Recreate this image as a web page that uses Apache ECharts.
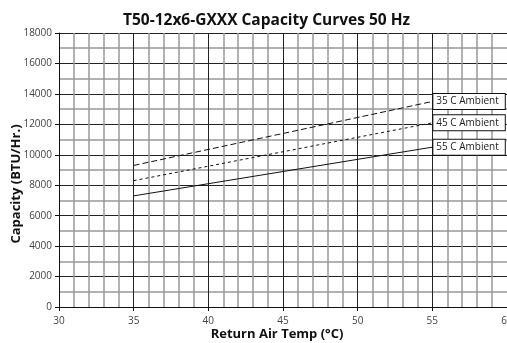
<!DOCTYPE html>
<html>
<head>
<meta charset="utf-8">
<script src="https://cdn.jsdelivr.net/npm/echarts@6/dist/echarts.min.js"></script>
<style>
  html, body { margin: 0; padding: 0; background: #fff; }
  #chart { width: 507px; height: 343px; }
</style>
</head>
<body>
<div id="chart"></div>
<script>
// Capacity curves: return air temperature vs capacity at three ambient temperatures
const returnAirTemp = [35, 55];
const ambient35 = [9300, 13500];
const ambient45 = [8300, 12100];
const ambient55 = [7300, 10500];
const seriesNames = ['35 C Ambient', '45 C Ambient', '55 C Ambient'];

const chart = echarts.init(document.getElementById('chart'), null, { renderer: 'canvas' });
const font = '"Open Sans", "Noto Sans", sans-serif';

function pairs(xs, ys) { return xs.map((x, i) => [x, ys[i]]); }

function curve(name, values, dash) {
  return {
    name: name,
    type: 'line',
    data: pairs(returnAirTemp, values),
    symbol: 'none',
    silent: true,
    lineStyle: { color: '#111', width: 1, type: dash },
    endLabel: {
      show: true,
      formatter: '{a}',
      distance: 1,
      color: '#222',
      fontFamily: font,
      fontSize: 10,
      backgroundColor: '#fff',
      borderColor: '#111',
      borderWidth: 1,
      padding: [3, 6, 2, 3]
    }
  };
}

chart.setOption({
  animation: false,
  title: {
    text: 'T50-12x6-GXXX Capacity Curves 50 Hz',
    left: 118,
    top: 8,
    textStyle: { fontFamily: font, fontSize: 15.5, fontWeight: 'bold', color: '#111' }
  },
  grid: { left: 59, right: 0, top: 33, bottom: 36, containLabel: false, outerBoundsMode: 'none' },
  xAxis: {
    type: 'value',
    min: 30, max: 60, interval: 5,
    name: 'Return Air Temp (°C)',
    nameLocation: 'middle',
    nameGap: 21,
    nameMoveOverlap: false,
    nameTextStyle: { fontFamily: font, fontSize: 13, fontWeight: 'bold', color: '#111', padding: [0, 12, 0, 0] },
    axisLine: { show: true, lineStyle: { color: '#111', width: 1 } },
    axisTick: { show: true, length: 4, lineStyle: { color: '#111' } },
    axisLabel: { fontFamily: font, fontSize: 10, color: '#444', margin: 9 },
    splitLine: { show: true, lineStyle: { color: '#222', width: 1 } },
    minorTick: { show: false, splitNumber: 5 },
    minorSplitLine: { show: true, lineStyle: { color: '#999', width: 1.5 } }
  },
  yAxis: {
    type: 'value',
    min: 0, max: 18000, interval: 2000,
    name: 'Capacity (BTU/Hr.)',
    nameLocation: 'middle',
    nameGap: 36,
    nameMoveOverlap: false,
    nameTextStyle: { fontFamily: font, fontSize: 13, fontWeight: 'bold', color: '#111', padding: [0, 28, 0, 0] },
    axisLine: { show: true, lineStyle: { color: '#111', width: 1 } },
    axisTick: { show: true, length: 4, lineStyle: { color: '#111' } },
    axisLabel: { fontFamily: font, fontSize: 10, color: '#444', margin: 7, formatter: v => String(v) },
    splitLine: { show: true, lineStyle: { color: '#222', width: 1 } },
    minorTick: { show: false, splitNumber: 2 },
    minorSplitLine: { show: true, lineStyle: { color: '#999', width: 1.5 } }
  },
  series: [
    curve(seriesNames[0], ambient35, [6, 3]),
    curve(seriesNames[1], ambient45, [3, 3]),
    curve(seriesNames[2], ambient55, 'solid')
  ]
});
</script>
</body>
</html>
